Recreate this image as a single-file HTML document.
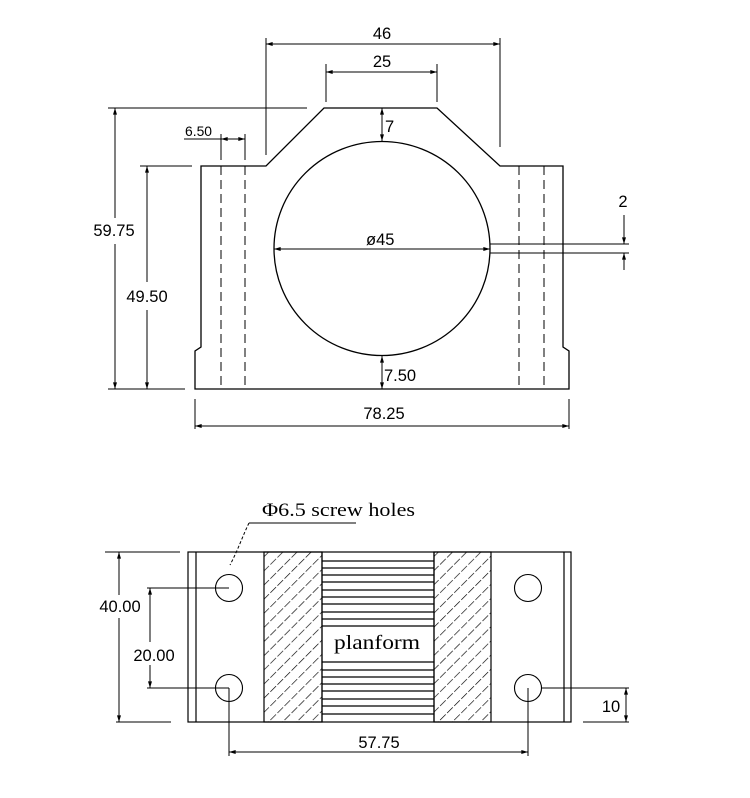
<!DOCTYPE html>
<html><head><meta charset="utf-8"><style>
html,body{margin:0;padding:0;background:#fff;}
svg{display:block;}
text{font-family:"Liberation Sans",sans-serif;fill:#000;}
</style></head><body>
<svg width="750" height="798" viewBox="0 0 750 798" xmlns="http://www.w3.org/2000/svg">
<defs>
<marker id="a" viewBox="0 0 10 6" refX="10" refY="3" markerWidth="8" markerHeight="4" orient="auto-start-reverse"><path d="M0,0 L10,3 L0,6 z" fill="#000"/></marker>
<pattern id="h" width="10" height="10" patternUnits="userSpaceOnUse" patternTransform="rotate(45)">
<line x1="0" y1="0" x2="0" y2="10" stroke="#000" stroke-width="1.3" stroke-dasharray="8,2"/>
</pattern>
</defs>
<g stroke="#000" stroke-width="1.3" fill="none">
<path d="M195,389 L195,351 L201,347 L201,166 L266,166 L324,108 L437,108 L500,166 L563,166 L563,347 L569,351 L569,389 Z" fill="#fff"/>
<ellipse cx="382" cy="248.5" rx="108" ry="107" fill="#fff"/>
<line x1="490" y1="244" x2="629" y2="244" stroke-width="1"/>
<line x1="490" y1="253" x2="629" y2="253" stroke-width="1"/>
<g stroke-dasharray="9,5" stroke-width="1">
<line x1="221" y1="166" x2="221" y2="389"/><line x1="245" y1="166" x2="245" y2="389"/>
<line x1="519" y1="166" x2="519" y2="389"/><line x1="544" y1="166" x2="544" y2="389"/>
</g>
</g>
<g stroke="#000" stroke-width="1" fill="none">
<line x1="266" y1="38" x2="266" y2="155"/><line x1="500" y1="38" x2="500" y2="147"/>
<line x1="266" y1="44" x2="500" y2="44" marker-start="url(#a)" marker-end="url(#a)"/>
<line x1="326" y1="64" x2="326" y2="102"/><line x1="437" y1="64" x2="437" y2="102"/>
<line x1="326" y1="72" x2="437" y2="72" marker-start="url(#a)" marker-end="url(#a)"/>
<line x1="108" y1="108" x2="307" y2="108"/><line x1="108" y1="389" x2="185" y2="389"/>
<line x1="115" y1="108" x2="115" y2="218" marker-start="url(#a)"/>
<line x1="115" y1="244" x2="115" y2="389" marker-end="url(#a)"/>
<line x1="140" y1="166" x2="192" y2="166"/>
<line x1="147" y1="166" x2="147" y2="282" marker-start="url(#a)"/>
<line x1="147" y1="310" x2="147" y2="389" marker-end="url(#a)"/>
<line x1="184" y1="139" x2="245" y2="139"/>
<line x1="221" y1="134" x2="221" y2="160"/><line x1="245" y1="134" x2="245" y2="160"/>
<line x1="221" y1="139" x2="245" y2="139" marker-start="url(#a)" marker-end="url(#a)"/>
<line x1="382" y1="108" x2="382" y2="141" marker-start="url(#a)" marker-end="url(#a)"/>
<line x1="382" y1="356" x2="382" y2="389" marker-start="url(#a)" marker-end="url(#a)"/>
<line x1="274" y1="249" x2="490" y2="249" marker-start="url(#a)" marker-end="url(#a)"/>
<line x1="624" y1="215" x2="624" y2="244" marker-end="url(#a)"/>
<line x1="624" y1="270" x2="624" y2="253" marker-end="url(#a)"/>
<line x1="195" y1="399" x2="195" y2="429"/><line x1="569" y1="399" x2="569" y2="429"/>
<line x1="195" y1="426" x2="569" y2="426" marker-start="url(#a)" marker-end="url(#a)"/>
</g>
<g font-size="16.5">
<text x="382" y="39" text-anchor="middle">46</text>
<text x="382" y="67" text-anchor="middle">25</text>
<text x="114" y="236" text-anchor="middle">59.75</text>
<text x="147" y="302" text-anchor="middle">49.50</text>
<text x="185" y="136" font-size="14" textLength="27" lengthAdjust="spacingAndGlyphs">6.50</text>
<text x="385" y="132">7</text>
<text x="366" y="245">ø45</text>
<text x="384" y="381">7.50</text>
<text x="623" y="207" text-anchor="middle">2</text>
<text x="384" y="419" text-anchor="middle">78.25</text>
</g>
<g stroke="#000" stroke-width="1.2" fill="none">
<rect x="188" y="552" width="383" height="170"/>
<line x1="196" y1="552" x2="196" y2="722"/><line x1="564" y1="552" x2="564" y2="722"/>
<rect x="264" y="552" width="58" height="170" fill="url(#h)"/>
<rect x="434" y="552" width="57" height="170" fill="url(#h)"/>
<line x1="322" y1="552" x2="322" y2="722"/><line x1="434" y1="552" x2="434" y2="722"/>
</g>
<g stroke="#000" stroke-width="1.2">
<line x1="322" y1="561" x2="434" y2="561"/><line x1="322" y1="568" x2="434" y2="568"/>
<line x1="322" y1="575" x2="434" y2="575"/><line x1="322" y1="582" x2="434" y2="582"/>
<line x1="322" y1="590" x2="434" y2="590"/><line x1="322" y1="597" x2="434" y2="597"/>
<line x1="322" y1="604" x2="434" y2="604"/><line x1="322" y1="612" x2="434" y2="612"/>
<line x1="322" y1="619" x2="434" y2="619"/><line x1="322" y1="626" x2="434" y2="626"/>
<line x1="322" y1="662" x2="434" y2="662"/><line x1="322" y1="670" x2="434" y2="670"/>
<line x1="322" y1="677" x2="434" y2="677"/><line x1="322" y1="684" x2="434" y2="684"/>
<line x1="322" y1="691" x2="434" y2="691"/><line x1="322" y1="699" x2="434" y2="699"/>
<line x1="322" y1="706" x2="434" y2="706"/><line x1="322" y1="714" x2="434" y2="714"/>
</g>
<g stroke="#000" stroke-width="1.1" fill="none">
<circle cx="229" cy="588" r="13.5"/><circle cx="229" cy="688" r="13.5"/>
<circle cx="528" cy="588" r="13.5"/><circle cx="528" cy="688" r="13.5"/>
</g>
<g stroke="#000" stroke-width="1" fill="none">
<line x1="249" y1="523" x2="356" y2="523"/>
<path d="M249,523 C243,535 238,550 230,565" stroke-dasharray="3,2"/>
<line x1="105" y1="552" x2="180" y2="552"/><line x1="116" y1="722" x2="171" y2="722"/>
<line x1="119" y1="552" x2="119" y2="595" marker-start="url(#a)"/>
<line x1="119" y1="618" x2="119" y2="722" marker-end="url(#a)"/>
<line x1="147" y1="588" x2="229" y2="588"/><line x1="147" y1="688" x2="229" y2="688"/>
<line x1="150" y1="588" x2="150" y2="642" marker-start="url(#a)"/>
<line x1="150" y1="665" x2="150" y2="688" marker-end="url(#a)"/>
<line x1="541" y1="688" x2="629" y2="688"/><line x1="583" y1="722" x2="629" y2="722"/>
<line x1="626" y1="688" x2="626" y2="722" marker-start="url(#a)" marker-end="url(#a)"/>
<line x1="229" y1="688" x2="229" y2="756"/><line x1="528" y1="688" x2="528" y2="756"/>
<line x1="229" y1="752" x2="528" y2="752" marker-start="url(#a)" marker-end="url(#a)"/>
</g>
<rect x="325" y="627" width="106" height="30" fill="#fff"/>
<text x="377" y="649" text-anchor="middle" style="font-family:'Liberation Serif',serif" font-size="20" textLength="86" lengthAdjust="spacingAndGlyphs">planform</text>
<text x="262" y="516" style="font-family:'Liberation Serif',serif" font-size="19" textLength="153" lengthAdjust="spacingAndGlyphs">Φ6.5 screw holes</text>
<g font-size="16.5">
<text x="120" y="612" text-anchor="middle">40.00</text>
<text x="154" y="661" text-anchor="middle">20.00</text>
<text x="611" y="712" text-anchor="middle">10</text>
<text x="379" y="748" text-anchor="middle">57.75</text>
</g>
</svg>
</body></html>
